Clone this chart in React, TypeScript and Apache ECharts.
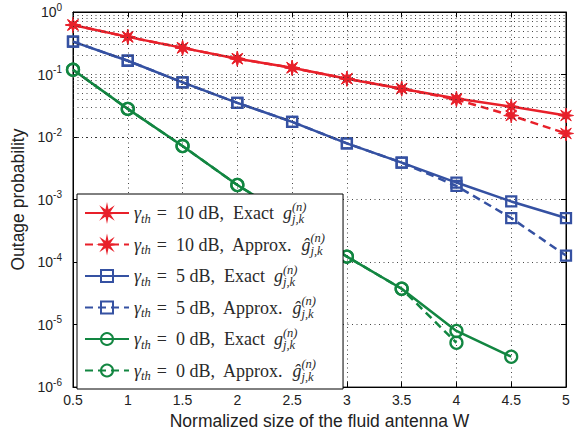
import React, { useEffect, useRef } from "react";
import * as echarts from "echarts";

const xValues = [0.5, 1, 1.5, 2, 2.5, 3, 3.5, 4, 4.5, 5];
const red10Exact = [0.62, 0.40, 0.267, 0.179, 0.128, 0.0857, 0.0594, 0.0412, 0.0307, 0.0221];
const red10Approx = [0.62, 0.40, 0.267, 0.179, 0.128, 0.0857, 0.0594, 0.0398, 0.0221, 0.0114];
const blue5Exact = [0.336, 0.166, 0.0748, 0.0352, 0.0175, 0.00791, 0.0039, 0.00187, 0.000933, 0.000506];
const blue5Approx = [0.336, 0.166, 0.0748, 0.0352, 0.0175, 0.00791, 0.0039, 0.00165, 0.000506, 0.000127];
const green0Exact = [0.119, 0.0282, 0.00717, 0.00171, 0.00049, 0.000122, 3.74e-5, 7.9e-6, 3.06e-6, null];
const green0Approx = [0.119, 0.0282, 0.00717, 0.00171, 0.00049, 0.000122, 3.74e-5, 5.12e-6, null, null];

const xTickLabels = ["0.5", "1", "1.5", "2", "2.5", "3", "3.5", "4", "4.5", "5"];
const yDecadeExponents = [-6, -5, -4, -3, -2, -1, 0];

const legendNames = ["r_exact", "r_approx", "b_exact", "b_approx", "g_exact", "g_approx"];
const legendDb = ["10", "10", "5", "5", "0", "0"];
const legendKind = ["Exact", "Approx.", "Exact", "Approx.", "Exact", "Approx."];

const RED = "#e8202a";
const BLUE = "#3551a2";
const GREEN = "#128641";

function starPath(): string {
  const pts: string[] = [];
  for (let i = 0; i < 16; i++) {
    const a = (i * Math.PI) / 8 - Math.PI / 2;
    const r = i % 2 === 0 ? 10 : 3.6;
    pts.push(`${(Math.cos(a) * r).toFixed(3)} ${(Math.sin(a) * r).toFixed(3)}`);
  }
  return "path://M" + pts.join(" L") + " Z";
}

export default function App() {
  const ref = useRef<HTMLDivElement>(null);
  useEffect(() => {
    if (!ref.current) return;
    const chart = echarts.init(ref.current, undefined, { renderer: "svg" });
    const star = starPath();
    const pair = (ys: (number | null)[]) => xValues.map((x, i) => [x, ys[i]]);
    const minorVals: number[] = [];
    for (let d = -6; d < 0; d++) {
      for (let k = 2; k <= 9; k++) minorVals.push(k * Math.pow(10, d));
    }
    const mk = (name: string, data: (number | null)[], color: string, symbol: string, size: number, dashed: boolean, filled: boolean) => ({
      name,
      type: "line",
      data: pair(data),
      symbol,
      symbolSize: size,
      showAllSymbol: true,
      connectNulls: false,
      z: 3,
      lineStyle: { color, width: 2.5, type: dashed ? [8, 5] : "solid" },
      itemStyle: filled
        ? { color, borderColor: color, borderWidth: 1 }
        : { color: "rgba(0,0,0,0)", borderColor: color, borderWidth: 2.3 },
      emphasis: { disabled: true },
    });
    const F = "Liberation Serif";
    const C = "#2a2a2a";
    const legendRich = {
      gm: { fontFamily: F, fontStyle: "italic", fontSize: 18, lineHeight: 24, color: C },
      th: { fontFamily: F, fontStyle: "italic", fontSize: 12.5, verticalAlign: "bottom", height: 13, color: C },
      eq: { fontFamily: F, fontSize: 18, lineHeight: 24, color: C, padding: [0, 9, 0, 6] },
      tx: { fontFamily: F, fontSize: 18, lineHeight: 24, color: C },
      gi: { fontFamily: F, fontStyle: "italic", fontSize: 18, lineHeight: 24, color: C },
      sup: { fontFamily: F, fontStyle: "italic", fontSize: 12.5, verticalAlign: "top", width: 0, align: "left", height: 11, color: C },
      sub: { fontFamily: F, fontStyle: "italic", fontSize: 12.5, verticalAlign: "bottom", height: 12, color: C },
    };
    const option: any = {
      animation: false,
      backgroundColor: "#fff",
      grid: { left: 73, right: 13, top: 12, bottom: 46, show: true, borderColor: "#000", borderWidth: 1, backgroundColor: "transparent" },
      xAxis: [
        {
          type: "value",
          min: 0.5,
          max: 5,
          interval: 0.5,
          name: "Normalized size of the fluid antenna W",
          nameLocation: "middle",
          nameGap: 21,
          nameTextStyle: { fontFamily: "Liberation Sans", fontSize: 17.5, color: "#222" },
          axisLine: { show: true, lineStyle: { color: "#000", width: 1 } },
          axisTick: { show: true, inside: true, length: 5, lineStyle: { color: "#000" } },
          axisLabel: {
            margin: 6,
            fontFamily: "Liberation Sans",
            fontSize: 14,
            color: "#222",
            formatter: (v: number) => {
              const i = xValues.findIndex((x) => Math.abs(x - v) < 1e-9);
              return i >= 0 ? xTickLabels[i] : "";
            },
          },
          splitLine: { show: true, lineStyle: { type: [1, 3.5], color: "#333", width: 0.9 } },
        },
        {
          type: "value",
          position: "top",
          min: 0.5,
          max: 5,
          interval: 0.5,
          axisLine: { show: true, lineStyle: { color: "#000" } },
          axisTick: { show: true, inside: true, length: 5, lineStyle: { color: "#000" } },
          axisLabel: { show: false },
          splitLine: { show: false },
        },
      ],
      yAxis: [
        {
          type: "log",
          logBase: 10,
          min: 1e-6,
          max: 1,
          name: "Outage probability",
          nameLocation: "middle",
          nameGap: 38,
          nameTextStyle: { fontFamily: "Liberation Sans", fontSize: 17.5, color: "#222" },
          axisLine: { show: true, lineStyle: { color: "#000", width: 1 } },
          axisTick: { show: true, inside: true, length: 5, lineStyle: { color: "#000" } },
          axisLabel: {
            margin: 11,
            formatter: (v: number) => {
              const e = Math.round(Math.log10(v));
              if (!yDecadeExponents.includes(e)) return "";
              return `{b|10}{s|${e}}`;
            },
            rich: {
              b: { fontFamily: "Liberation Sans", fontSize: 14, lineHeight: 20, color: "#222" },
              s: { fontFamily: "Liberation Sans", fontSize: 10, verticalAlign: "top", height: 10, color: "#222" },
            },
          },
          splitLine: { show: true, lineStyle: { type: [1, 3.5], color: "#333", width: 0.9 } },
        },
        {
          type: "log",
          logBase: 10,
          min: 1e-6,
          max: 1,
          position: "right",
          axisLine: { show: true, lineStyle: { color: "#000" } },
          axisTick: { show: true, inside: true, length: 5, lineStyle: { color: "#000" } },
          axisLabel: { show: false },
          splitLine: { show: false },
        },
      ],
      legend: {
        data: legendNames,
        orient: "vertical",
        left: 77,
        top: 194,
        padding: [6, 18, 6, 7],
        itemWidth: 44,
        itemHeight: 15,
        itemGap: 6,
        borderColor: "#000",
        borderWidth: 1,
        backgroundColor: "#fff",
        selectedMode: false,
        z: 10,
        formatter: (name: string) => {
          const i = legendNames.indexOf(name);
          const g = legendKind[i] === "Exact" ? "g" : "ĝ";
          return `{gm|γ}{th|th}{eq|=}{tx|${legendDb[i]} dB,  ${legendKind[i]}  }{gi|${g}}{sup|(n)}{sub|j,k}`;
        },
        textStyle: { rich: legendRich },
      },
      series: [
        {
          name: "_grid",
          type: "line",
          data: [],
          z: 1,
          silent: true,
          markLine: {
            silent: true,
            symbol: ["none", "none"],
            label: { show: false },
            emphasis: { disabled: true },
            lineStyle: { type: [1, 3.5], color: "#333", width: 0.9 },
            data: minorVals.map((v) => ({ yAxis: v })),
          },
        },
        mk("r_exact", red10Exact, RED, star, 15, false, true),
        mk("r_approx", red10Approx, RED, star, 15, true, true),
        mk("b_exact", blue5Exact, BLUE, "rect", 10, false, false),
        mk("b_approx", blue5Approx, BLUE, "rect", 10, true, false),
        mk("g_exact", green0Exact, GREEN, "circle", 12, false, false),
        mk("g_approx", green0Approx, GREEN, "circle", 12, true, false),
      ],
    };
    chart.setOption(option);
    return () => chart.dispose();
  }, []);
  return <div ref={ref} style={{ width: 579, height: 435, position: "absolute", left: 0, top: 0 }} />;
}
